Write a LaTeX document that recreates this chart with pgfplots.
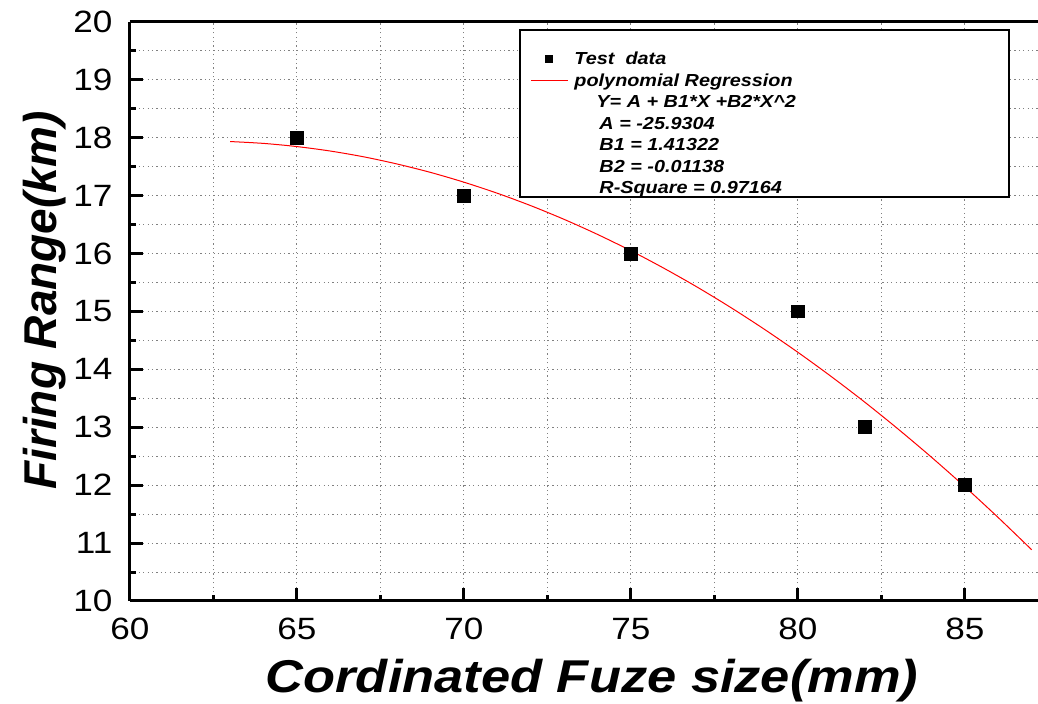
\documentclass[border=0pt]{standalone}
\usepackage{fontspec}
\setmainfont{Liberation Sans}
\usepackage{graphicx}
\usepackage{pgfplots}
\pgfplotsset{compat=1.18}
\newcommand\hs[1]{\scalebox{1.14}[1]{#1}}
\pgfplotsset{
  markleg/.style={legend image code/.code={\path[draw=none] (0pt,0pt) -- (18.5pt,0pt); \fill[black, draw=none] (7.25pt,-2pt) rectangle (11.25pt,2pt);}},
  lineleg/.style={legend image code/.code={\draw[red, line width=0.5pt] (0pt,0pt) -- (18.5pt,0pt);}},
}

\begin{document}
\begin{tikzpicture}
\begin{axis}[
scale only axis,
width=454pt,
height=289.5pt,
xmin=60, xmax=87.19,
ymin=10, ymax=20,
xtick={60,65,...,85},
ytick={10,11,...,20},
minor x tick num=1,
minor y tick num=1,
axis y line*=left,
xtick pos=bottom,
ytick pos=left,
tick align=inside,
major tick length=6.5pt,
minor tick length=3pt,
tick style={black, line width=1.5pt},
axis line style={line width=1.5pt},
grid=both,
grid style={gray, line width=0.5pt, dash pattern=on 0.6pt off 1.6pt},
/pgf/number format/assume math mode=true,
tick label style={font=\fontsize{15.4}{18}\selectfont, inner sep=0pt, xscale=1.14},
xticklabel style={yshift=-8.5pt},
yticklabel style={xshift=-7.5pt},
every axis x label/.style={at={(rel axis cs:0.5,0)}, anchor=base, yshift=-46pt, xshift=4pt, xscale=1.14},
every axis y label/.style={at={(rel axis cs:0,0.5)}, anchor=center, rotate=90, xshift=5.5pt, yshift=42.5pt},
xlabel={\fontsize{23}{28}\selectfont\bfseries\itshape Cordinated Fuze size(mm)},
ylabel={\fontsize{23}{28}\selectfont\bfseries\itshape Firing Range(km)},
legend cell align=left,
legend style={draw=none, fill=none, at={(axis cs:71.98,19.53)}, anchor=north west,
  inner sep=0pt, column sep=3pt, row sep=1.05pt,
  font=\fontsize{8.7}{10}\selectfont\bfseries\itshape,
  nodes={inner sep=0pt, text height=7.5pt, text depth=2.2pt}},
]
\draw[line width=0.75pt, fill=white] (axis cs:71.68,19.86) rectangle (axis cs:86.32,16.98);
\coordinate (sw) at (rel axis cs:0,0);
\coordinate (ne) at (rel axis cs:1,1);

\addplot[only marks, mark=square*, mark size=3.2pt, black, markleg]
coordinates {(65,18) (70,17) (75,16) (80,15) (82,13) (85,12)};
\addlegendentry{\hs{Test\ \ data}}

\addplot[red, line width=0.5pt, no marks, smooth, lineleg]
coordinates {
(63,17.935) (64,17.903) (65,17.848) (66,17.771) (67,17.671) (68,17.547)
(69,17.402) (70,17.233) (71,17.042) (72,16.828) (73,16.591) (74,16.331)
(75,16.049) (76,15.743) (77,15.416) (78,15.065) (79,14.691) (80,14.295)
(81,13.876) (82,13.435) (83,12.970) (84,12.483) (85,11.973) (86,11.440)
(87,10.885)};
\addlegendentry{\makebox[140pt][l]{\hs{polynomial Regression}}}

\addlegendimage{empty legend}
\addlegendentry{\hspace*{11pt}\hs{Y= A + B1*X +B2*X\textasciicircum 2}}
\addlegendimage{empty legend}
\addlegendentry{\hspace*{12.5pt}\hs{A = -25.9304}}
\addlegendimage{empty legend}
\addlegendentry{\hspace*{12.5pt}\hs{B1 = 1.41322}}
\addlegendimage{empty legend}
\addlegendentry{\hspace*{12.5pt}\hs{B2 = -0.01138}}
\addlegendimage{empty legend}
\addlegendentry{\hspace*{12.5pt}\hs{R-Square = 0.97164}}
\end{axis}
\pgfresetboundingbox
\path[use as bounding box] ([xshift=-65pt,yshift=-51.5pt]sw) rectangle ([yshift=11pt]ne);
\end{tikzpicture}
\end{document}
